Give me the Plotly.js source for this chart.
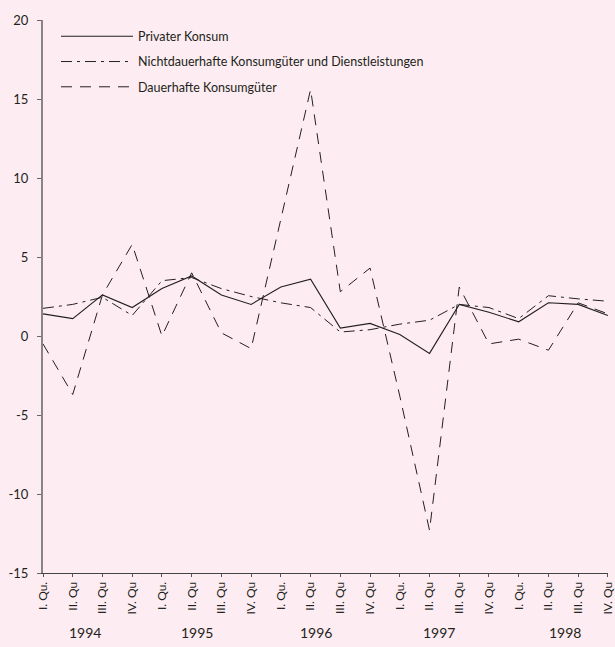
<!DOCTYPE html>
<html>
<head>
<meta charset="utf-8">
<script src="https://cdn.plot.ly/plotly-3.0.1.min.js"></script>
<style>
  html, body { margin: 0; padding: 0; background: rgb(253,237,242); }
  #chart { width: 615px; height: 647px; }
</style>
</head>
<body>
<div id="chart"></div>
<script>
// Quarter labels (1994 Q1 .. 1998 Q4)
var quarterLabels = [
  "I. Qu.", "II. Qu", "III. Qu", "IV. Qu",
  "I. Qu.", "II. Qu", "III. Qu", "IV. Qu",
  "I. Qu.", "II. Qu", "III. Qu", "IV. Qu",
  "I. Qu.", "II. Qu", "III. Qu", "IV. Qu",
  "I. Qu.", "II. Qu", "III. Qu", "IV. Qu"
];
var years = ["1994", "1995", "1996", "1997", "1998"];
var yTickVals = [-15, -10, -5, 0, 5, 10, 15, 20];
var yTickText = ["-15", "-10", "-5", "0", "5", "10", "15", "20"];

// Series values
var privaterKonsum = [1.4, 1.1, 2.6, 1.8, 3.0, 3.8, 2.6, 2.0, 3.1, 3.6, 0.5, 0.8, 0.1, -1.1, 2.0, 1.5, 0.9, 2.1, 2.0, 1.3];
var nichtdauerhafte = [1.75, 2.0, 2.45, 1.3, 3.5, 3.7, 3.0, 2.5, 2.1, 1.8, 0.25, 0.4, 0.75, 1.0, 2.0, 1.8, 1.1, 2.55, 2.35, 2.2];
var dauerhafte = [-0.5, -3.7, 2.6, 5.8, 0.0, 4.0, 0.2, -0.8, 7.4, 15.6, 2.8, 4.3, -3.8, -12.3, 3.1, -0.5, -0.2, -0.9, 2.1, 1.4];

var xIdx = quarterLabels.map(function (_, i) { return i; });
// horizontal placement of the year labels (in quarter-index units)
var yearX = [1.41, 5.18, 9.18, 13.32, 17.56];

var ink = "#231f20";
var fontFam = "Lato, 'Open Sans', 'DejaVu Sans', sans-serif";

var traces = [
  { x: xIdx, y: privaterKonsum, name: "Privater Konsum", legendgroup: "a",
    mode: "lines", line: { color: ink, width: 1.1, dash: "solid" } },
  { x: xIdx, y: nichtdauerhafte, name: "Nichtdauerhafte Konsumgüter und Dienstleistungen", legendgroup: "b",
    mode: "lines", line: { color: ink, width: 1, dash: "11px,5px,3px,5px" } },
  { x: xIdx, y: dauerhafte, name: "Dauerhafte Konsumgüter", legendgroup: "c",
    mode: "lines", line: { color: ink, width: 1, dash: "11px,8px" } }
];

var annotations = years.map(function (yr, i) {
  return { x: yearX[i], xref: "x", y: -0.107, yref: "paper",
    text: yr, showarrow: false, xanchor: "center", yanchor: "middle",
    font: { family: fontFam, size: 14, color: ink } };
});

var layout = {
  width: 615, height: 647,
  margin: { l: 43, r: 7, t: 20, b: 74 },
  paper_bgcolor: "rgb(253,237,242)",
  plot_bgcolor: "rgb(253,237,242)",
  font: { family: fontFam, size: 12, color: ink },
  showlegend: true,
  legend: {
    x: 0.023, y: 0.997, xanchor: "left", yanchor: "top",
    bgcolor: "rgba(0,0,0,0)", borderwidth: 0,
    font: { family: fontFam, size: 12.5, color: ink },
    itemwidth: 72, tracegroupgap: 6, traceorder: "grouped"
  },
  xaxis: {
    range: [0, 19.003], tickmode: "array", tickvals: xIdx, ticktext: quarterLabels,
    tickangle: -90, ticks: "outside", ticklen: 3, tickcolor: "#555",
    showline: true, linecolor: "#444", linewidth: 1,
    showgrid: false, zeroline: false, fixedrange: true,
    ticklabeloverflow: "allow",
    tickfont: { family: fontFam, size: 12, color: ink }
  },
  yaxis: {
    range: [-15, 20], tickmode: "array", tickvals: yTickVals, ticktext: yTickText,
    ticks: "outside", ticklen: 4, tickcolor: "#666",
    showline: true, linecolor: "#8a8486", linewidth: 2,
    showgrid: false, zeroline: false, fixedrange: true,
    ticklabelstandoff: 6,
    tickfont: { family: fontFam, size: 13, color: ink }
  },
  annotations: annotations
};

Plotly.newPlot("chart", traces, layout, { displayModeBar: false, staticPlot: true });
</script>
</body>
</html>
